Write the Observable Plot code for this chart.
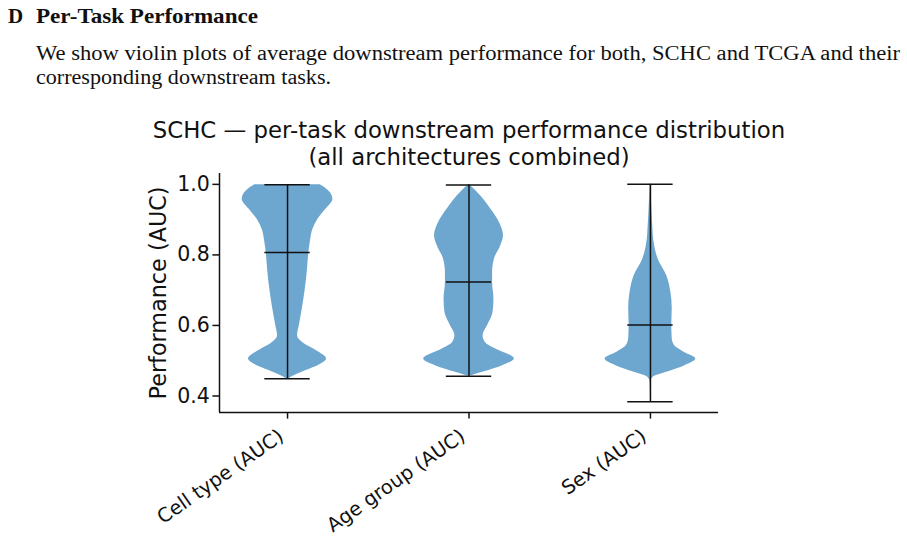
<!DOCTYPE html>
<html>
<head>
<meta charset="utf-8">
<script src="https://cdn.jsdelivr.net/npm/d3@7"></script>
<script src="https://cdn.jsdelivr.net/npm/@observablehq/plot@0.6"></script>
<style>
  html, body { margin: 0; padding: 0; background: #fff; }
  body { width: 907px; height: 538px; position: relative; overflow: hidden; }
  #head { position: absolute; left: 0; top: 0; }
  #chart { position: absolute; left: 0; top: 100px; }
  #head text { font-family: "Liberation Serif", "DejaVu Serif", serif; fill: #111; }
</style>
</head>
<body>
<svg id="head" width="907" height="100">
  <text x="8" y="23" font-size="21" font-weight="bold">D</text>
  <text x="36" y="23" font-size="21" font-weight="bold" textLength="222" lengthAdjust="spacingAndGlyphs">Per-Task Performance</text>
  <text x="36" y="60" font-size="20" textLength="864" lengthAdjust="spacingAndGlyphs">We show violin plots of average downstream performance for both, SCHC and TCGA and their</text>
  <text x="36" y="84" font-size="20" textLength="295" lengthAdjust="spacingAndGlyphs">corresponding downstream tasks.</text>
</svg>
<div id="chart"></div>
<script>
// Downstream tasks and their positions on the x axis
const tasks = ["Cell type (AUC)", "Age group (AUC)", "Sex (AUC)"];
const positions = [1, 2, 3];

// Summary statistics per task (AUC)
const minima  = [0.449, 0.456, 0.384];
const maxima  = [0.999, 0.998, 1.000];
const medians = [0.807, 0.723, 0.601];

// Density profiles: AUC levels and relative half-widths (1 = widest violin)
const cellTypeLevels = [0.449, 0.455, 0.472, 0.488, 0.505, 0.529, 0.548, 0.571, 0.600, 0.628, 0.675, 0.722, 0.760, 0.807, 0.835, 0.873, 0.901, 0.930, 0.958, 0.991, 0.999];
const cellTypeWidths = [0.03, 0.11, 0.41, 0.70, 0.86, 0.63, 0.37, 0.22, 0.26, 0.30, 0.36, 0.41, 0.44, 0.47, 0.50, 0.56, 0.67, 0.85, 1.00, 0.82, 0.72];

const ageGroupLevels = [0.456, 0.458, 0.467, 0.486, 0.505, 0.533, 0.552, 0.571, 0.600, 0.637, 0.675, 0.722, 0.750, 0.788, 0.826, 0.854, 0.892, 0.930, 0.967, 0.998];
const ageGroupWidths = [0.02, 0.07, 0.30, 0.74, 1.00, 0.59, 0.36, 0.31, 0.41, 0.53, 0.55, 0.52, 0.52, 0.56, 0.70, 0.76, 0.67, 0.48, 0.26, 0.02];

const sexLevels = [0.384, 0.440, 0.453, 0.467, 0.486, 0.505, 0.524, 0.543, 0.562, 0.600, 0.647, 0.694, 0.741, 0.788, 0.835, 0.883, 0.930, 1.000];
const sexWidths = [0.00, 0.01, 0.06, 0.36, 0.76, 1.00, 0.74, 0.53, 0.48, 0.47, 0.48, 0.45, 0.36, 0.17, 0.08, 0.05, 0.03, 0.01];

const yTicks = [0.4, 0.6, 0.8, 1.0];

// Assemble long-format rows for the violin bodies
const profiles = [
  [cellTypeLevels, cellTypeWidths],
  [ageGroupLevels, ageGroupWidths],
  [sexLevels, sexWidths]
];
const violinRows = profiles.flatMap(([levels, widths], i) =>
  levels.map((v, j) => ({task: tasks[i], pos: positions[i], v, w: widths[j]}))
);
const summary = tasks.map((task, i) => ({
  task, pos: positions[i], min: minima[i], max: maxima[i], median: medians[i]
}));
const caps = summary.flatMap(d => [
  {pos: d.pos, v: d.min}, {pos: d.pos, v: d.max}, {pos: d.pos, v: d.median}
]);

// Autoscaled limits with 5% padding, as in matplotlib
const halfWidth = 0.25;
const xLo = positions[0] - halfWidth, xHi = positions[positions.length - 1] + halfWidth;
const xPad = (xHi - xLo) * 0.05;
const yLo = d3.min(minima), yHi = d3.max(maxima);
const yPad = (yHi - yLo) * 0.05;

const ink = "#111";
const tick = 6.6;

const chart = Plot.plot({
  width: 907,
  height: 438,
  marginLeft: 219,
  marginRight: 189,
  marginTop: 73,
  marginBottom: 126,
  style: {fontFamily: "'DejaVu Sans', sans-serif", fontSize: "20px", color: ink, background: "transparent"},
  x: {domain: [xLo - xPad, xHi + xPad]},
  y: {domain: [yLo - yPad, yHi + yPad]},
  marks: [
    Plot.areaX(violinRows, {
      y: "v",
      x1: d => d.pos - halfWidth * d.w,
      x2: d => d.pos + halfWidth * d.w,
      z: "task",
      curve: "monotone-y",
      fill: "#1f77b4",
      fillOpacity: 0.65
    }),
    Plot.ruleX(summary, {x: "pos", y1: "min", y2: "max", stroke: ink, strokeWidth: 1.5}),
    Plot.ruleY(caps, {y: "v", x1: d => d.pos - halfWidth / 2, x2: d => d.pos + halfWidth / 2, stroke: ink, strokeWidth: 1.5}),
    // axis spines (left and bottom only)
    Plot.ruleX([xLo - xPad], {stroke: ink, strokeWidth: 1.5}),
    Plot.ruleY([yLo - yPad], {stroke: ink, strokeWidth: 1.5}),
    Plot.axisY({ticks: yTicks, tickFormat: d3.format(".1f"), tickSize: tick, tickPadding: 3, label: null, strokeWidth: 1.5, fontSize: 20.5}),
    Plot.axisX({ticks: positions, tickFormat: () => "", tickSize: tick, label: null, strokeWidth: 1.5}),
    // rotated category labels
    Plot.text(summary, {
      x: "pos", frameAnchor: "bottom", text: "task",
      rotate: -35, textAnchor: "end", lineAnchor: "bottom",
      dx: -2.6, dy: 26.7, fontSize: 19.5, fill: ink
    }),
    // y axis title
    Plot.text(["Performance (AUC)"], {
      frameAnchor: "left", rotate: -90, textAnchor: "middle", lineAnchor: "bottom",
      dx: -54, fontSize: 22.3, fill: ink
    }),
    // chart title
    Plot.text(["SCHC — per-task downstream performance distribution"], {
      frameAnchor: "top", lineAnchor: "bottom", dy: -36, fontSize: 22.8, fill: ink
    }),
    Plot.text(["(all architectures combined)"], {
      frameAnchor: "top", lineAnchor: "bottom", dy: -9, fontSize: 22.8, fill: ink
    })
  ]
});
document.getElementById("chart").appendChild(chart);
</script>
</body>
</html>
